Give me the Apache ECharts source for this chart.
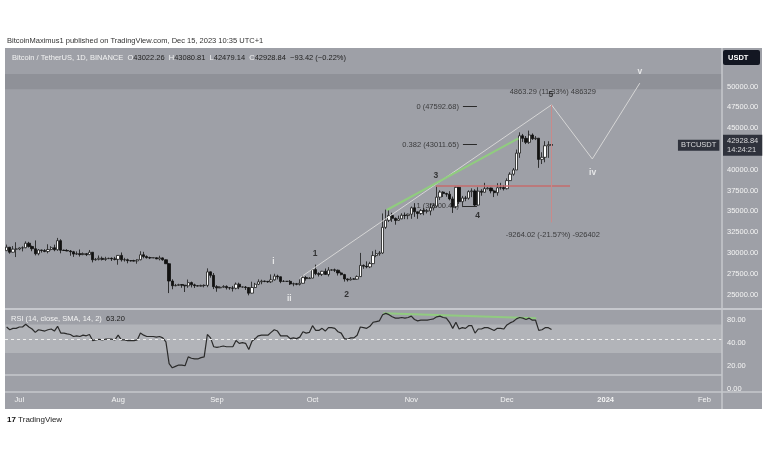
<!DOCTYPE html>
<html><head><meta charset="utf-8">
<script src="https://cdn.jsdelivr.net/npm/echarts@6/dist/echarts.min.js"></script>
<style>html,body{margin:0;padding:0;background:#fff}#c{width:768px;height:463px}</style>
</head><body><div id="c"></div><script>
// ---------- DATA ----------
const startDate = [2023, 5, 27];   // Jun 27 2023 (first daily bar)
const dayCount = 225;              // through Feb 6 2024 (axis extent)
// daily candles: [open, close, low, high]
const candles = [
[30270,30690,30220,31000],[30690,30080,29900,30700],[30080,30450,30040,30820],[30450,30470,29500,31280],
[30470,30590,30330,30660],[30590,30620,30180,30790],[30620,31160,30560,31390],[31160,30770,30640,31330],
[30770,30500,30200,30880],[30500,29900,29700,31500],[29900,30350,29710,30450],[30350,30290,30040,30390],
[30290,30170,30080,30450],[30170,30410,29950,31040],[30410,30620,30300,30800],[30620,30380,30200,30990],
[30380,31470,30250,31800],[31470,30320,29950,31640],[30320,30290,30250,30400],[30290,30230,30200,30450],
[30230,30140,29660,30340],[30140,29860,29520,30240],[29860,29910,29760,30180],[29910,29800,29560,30410],
[29800,29910,29720,30050],[29910,29790,29620,29990],[29790,30080,29740,30350],[30080,29170,28860,30100],
[29170,29230,29060,29390],[29230,29350,29100,29690],[29350,29210,29090,29560],[29210,29310,29040,29530],
[29310,29350,29260,29420],[29350,29280,29030,29450],[29280,29230,29100,29530],[29230,29700,28580,29740],
[29700,29170,28960,30050],[29170,29180,28960,29410],[29180,29070,28750,29310],[29070,29050,28960,29120],
[29050,29040,28960,29170],[29040,29180,28700,29250],[29180,29770,29110,30200],[29770,29560,29350,30130],
[29560,29430,29320,29700],[29430,29400,29260,29540],[29400,29420,29370,29470],[29420,29280,29250,29460],
[29280,29400,29100,29660],[29400,29170,29060,29460],[29170,28700,28690,29220],[28700,26620,25170,28780],
[26620,26050,25630,26830],[26050,26100,25990,26270],[26100,26190,26030,26290],[26190,26120,25810,26260],
[26120,26040,25300,26130],[26040,26430,25800,26800],[26430,26160,25850,26550],[26160,26060,25780,26300],
[26060,26010,25970,26120],[26010,26090,25960,26180],[26090,26100,25860,26220],[26100,27720,25880,28140],
[27720,27300,27020,27760],[27300,25940,25650,27580],[25940,25800,25330,26120],[25800,25870,25760,25980],
[25870,25970,25800,26120],[25970,25820,25600,26100],[25820,25790,25570,25870],[25790,25750,25360,26030],
[25750,26240,25620,26440],[26240,25900,25640,26420],[25900,25900,25840,25950],[25900,25840,25550,26020],
[25840,25160,24900,25880],[25160,25840,25130,26540],[25840,26230,25770,26400],[26230,26530,26130,26820],
[26530,26610,26230,26780],[26610,26570,26480,26670],[26570,26530,26410,26630],[26530,26760,26380,27410],
[26760,27210,26670,27490],[27210,27130,26810,27380],[27130,26570,26360,27160],[26570,26580,26500,26740],
[26580,26580,26530,26620],[26580,26260,26140,26740],[26260,26300,25990,26430],[26300,26220,26110,26390],
[26220,26350,26080,26820],[26350,27030,26320,27310],[27030,26910,26660,27230],[26910,26970,26890,27090],
[26970,27990,26950,28060],[27990,27500,27320,28590],[27500,27430,27160,27670],[27430,27790,27220,27840],
[27790,27410,27370,28120],[27410,27930,27170,28290],[27930,27960,27860,28040],[27960,27920,27700,28110],
[27920,27590,27280,27990],[27590,27390,27310,27740],[27390,26870,26550,27480],[26870,26760,26560,26940],
[26760,26860,26680,27100],[26860,26850,26810,26980],[26850,27150,26800,27290],[27150,28500,27110,30000],
[28500,28400,28090,28610],[28400,28320,28150,28980],[28320,28710,28170,28930],[28710,29680,28650,30200],
[29680,29910,29480,30370],[29910,29990,29660,30220],[29990,33070,29880,34740],[33070,33920,32880,35200],
[33920,34500,33710,35130],[34500,34150,33730,34830],[34150,33900,33390,34250],[33900,34090,33860,34480],
[34090,34530,34050,34760],[34530,34490,34060,34850],[34490,34650,34050,34720],[34650,35420,34100,35570],
[35420,34940,34330,35980],[34940,34730,34100,34950],[34730,35080,34580,35270],[35080,35020,34530,35380],
[35020,35040,34750,35280],[35040,35420,34520,35900],[35420,35630,35110,35980],[35630,36700,35540,37970],
[36700,37310,36350,37530],[37310,37130,36720,37410],[37130,37060,36750,37230],[37060,36490,36320,37420],
[36490,35550,34800,36770],[35550,37880,35360,37980],[37880,36160,35880,37930],[36160,36600,35510,36850],
[36600,36570,36210,36850],[36570,37360,36400,37520],[37360,37450,36700,37760],[37450,35750,35630,37650],
[35750,37420,35670,37890],[37420,37290,36870,37660],[37290,37720,37250,38420],[37720,37800,37620,37890],
[37800,37450,37160,37840],[37450,37240,36710,37590],[37240,37830,36880,38380],[37830,37850,37600,38420],
[37850,37720,37500,38150],[37720,38690,37620,38960],[38690,39460,38650,39690],[39460,39970,39280,40200],
[39970,41990,39970,42420],[41990,44080,41420,44490],[44080,43770,43340,44300],[43770,43290,43080,44050],
[43290,44170,43100,44700],[44170,43720,43580,44360],[43720,43790,43560,44040],[43790,41240,40220,43800],
[41240,41490,40680,42100],[41490,42880,40890,43430],[42880,43020,41420,43420],[43022.26,42928.84,42479.14,43080.81]
];
const rsi = [
66.6,62.8,64.7,64.7,66.6,66.6,70.5,66.6,63.8,59.0,62.8,61.8,60.9,62.8,63.8,60.9,67.6,58.0,58.0,57.0,
56.1,53.2,54.2,53.2,55.1,54.2,56.1,47.5,48.4,49.4,48.4,49.4,49.4,49.4,48.4,55.1,48.4,48.4,47.5,47.5,
47.5,48.4,58.0,55.1,53.2,53.2,53.2,52.3,53.2,51.3,45.6,14.9,9.1,11.1,13.0,13.0,12.0,24.5,22.6,21.6,
21.6,23.5,24.5,56.1,51.3,38.8,37.9,38.8,39.8,38.8,38.8,38.8,47.5,43.6,44.6,43.6,35.0,46.5,50.3,54.2,
55.1,55.1,55.1,59.0,62.8,60.9,54.2,54.2,54.2,50.3,51.3,50.3,52.3,59.9,58.0,59.0,68.5,61.8,61.8,64.7,
60.9,65.7,65.7,64.7,59.9,58.0,50.3,49.4,51.3,51.3,55.1,66.6,65.7,64.7,67.6,73.3,74.3,75.3,83.9,85.8,
84.0,81.0,79.1,79.1,80.0,79.1,80.0,82.0,77.2,75.3,76.2,76.2,76.2,77.2,78.1,81.0,82.0,80.0,79.1,73.3,
64.7,73.3,63.8,65.7,64.7,68.5,68.5,58.0,63.8,63.8,65.7,65.7,63.8,61.8,64.7,64.7,63.8,69.5,72.4,74.3,
78.1,80.0,79.1,77.2,79.1,76.2,76.2,61.8,62.8,65.7,65.7,63.2
];
const shownPriceTicks = [25000,27500,30000,32500,35000,37500,40000,45000,47500,50000];
const rsiTickLabels = ['0.00','20.00','40.00','80.00'];
const monthNames = ['Jan','Feb','Mar','Apr','May','Jun','Jul','Aug','Sep','Oct','Nov','Dec'];
const lastPrice = 42928.84;
const resistanceZone = [49663, 51500];
// drawings: [dayIndex, price]
const projectionPath = [[92,27000],[171,47792],[183.8,41290],[198.7,50400]];
const greenTrend = [[119.3,35156],[160.6,43774]];
const redLevel = [[134.7,38041],[176.8,38041]];
const measureLine = [[171,47792.13],[171,33664.82]];
const fibLevels = [[47592.68,'0 (47592.68)'],[43011.65,'0.382 (43011.65)'],[35600.45,'1 (35600.45)']];
const fibSpan = [143.2,147.6];
const waveLabels = [
  ['i',83.7,28942,'w'],['ii',88.7,24459,'w'],['1',96.8,29868,'d'],['2',106.7,25024,'d'],
  ['3',134.7,39243,'d'],['4',147.8,34471,'d'],['5',170.8,48978,'d'],['iv',183.9,39663,'w'],['v',198.7,51779,'w']
];
const measureTexts = [['4863.29 (11.33%) 486329',171.4,49339],['-9264.02 (-21.57%) -926402',171.4,32212]];
const rsiTrend = [[118.2,86],[166.2,79]];

// ---------- BUILD ----------
const dates = [];
const d0 = Date.UTC(startDate[0], startDate[1], startDate[2]);
for (let i = 0; i < dayCount; i++) dates.push(new Date(d0 + i * 86400000).toISOString().slice(0, 10));

const FONT = 'Liberation Sans';
const BG = '#9ea0a7', SEP = '#c6c8cd', TXT = '#f4f4f4', DARK = '#1e1e1e';
const L = 5, R = 46;

const chart = echarts.init(document.getElementById('c'), null, {renderer: 'canvas'});
const xExt = {min: -0.5, max: dayCount - 0.5};

const option = {
  backgroundColor: '#ffffff',
  animation: false,
  textStyle: {fontFamily: FONT},
  grid: [
    {left: L, right: R, top: 48, height: 261},
    {left: L, right: R, top: 309, height: 83},
    {left: L, right: R, top: 320, height: 68.5}
  ],
  xAxis: [
    {type: 'category', gridIndex: 0, data: dates, boundaryGap: true, show: false},
    Object.assign({type: 'value', gridIndex: 0, position: 'top', show: false}, xExt),
    {type: 'category', gridIndex: 1, data: dates, boundaryGap: true,
      axisLine: {show: false}, axisTick: {show: false}, splitLine: {show: false},
      axisLabel: {
        margin: 4, color: TXT, fontSize: 7.5, fontFamily: FONT,
        interval: (i, v) => v.slice(8) === '01',
        formatter: v => { const m = +v.slice(5, 7); return m === 1 ? '{y|' + v.slice(0, 4) + '}' : monthNames[m - 1]; },
        rich: {y: {fontWeight: 'bold', color: TXT, fontSize: 7.5, fontFamily: FONT}}
      }},
    Object.assign({type: 'value', gridIndex: 1, position: 'top', show: false}, xExt),
    {type: 'value', gridIndex: 2, show: false, min: 0, max: 1}
  ],
  yAxis: [
    {type: 'value', gridIndex: 0, position: 'right', min: 23257, max: 54627,
      axisLine: {show: false}, axisTick: {show: false}, splitLine: {show: false},
      axisLabel: {customValues: shownPriceTicks, margin: 5, color: TXT, fontSize: 7.5, fontFamily: FONT,
        formatter: v => v.toFixed(2)}},
    {type: 'value', gridIndex: 1, position: 'right', min: -25, max: 92, show: false},
    {type: 'value', gridIndex: 2, position: 'right', min: 0, max: 3, interval: 1,
      axisLine: {show: false}, axisTick: {show: false}, splitLine: {show: false},
      axisLabel: {margin: 5, color: TXT, fontSize: 7.5, fontFamily: FONT, showMinLabel: true, showMaxLabel: true,
        formatter: v => rsiTickLabels[Math.round(v)]}}
  ],
  series: [
    {type: 'candlestick', xAxisIndex: 0, yAxisIndex: 0, data: candles, barWidth: 2.8,
      itemStyle: {color: '#ffffff', color0: '#111111', borderColor: '#1a1a1a', borderColor0: '#111111', borderWidth: 0.8},
      markArea: {silent: true, itemStyle: {color: '#8f9198'},
        data: [[{yAxis: resistanceZone[0]}, {yAxis: resistanceZone[1]}]]}
    },
    {type: 'lines', coordinateSystem: 'cartesian2d', xAxisIndex: 1, yAxisIndex: 0, polyline: true, silent: true,
      lineStyle: {color: '#d6d6d6', width: 1, opacity: 1}, data: [{coords: projectionPath}], z: 3},
    {type: 'lines', coordinateSystem: 'cartesian2d', xAxisIndex: 1, yAxisIndex: 0, silent: true,
      lineStyle: {color: '#8fcf7c', width: 2, opacity: 0.95}, data: [{coords: greenTrend}], z: 4},
    {type: 'lines', coordinateSystem: 'cartesian2d', xAxisIndex: 1, yAxisIndex: 0, silent: true,
      lineStyle: {color: '#c46c6c', width: 1.5, opacity: 1}, data: [{coords: redLevel}], z: 4},
    {type: 'lines', coordinateSystem: 'cartesian2d', xAxisIndex: 1, yAxisIndex: 0, silent: true,
      lineStyle: {color: '#c98a8a', width: 1, opacity: 1}, data: [{coords: measureLine}], z: 4},
    {type: 'lines', coordinateSystem: 'cartesian2d', xAxisIndex: 1, yAxisIndex: 0, silent: true,
      lineStyle: {color: '#2a2a2a', width: 1, opacity: 1},
      data: fibLevels.map(f => ({coords: [[fibSpan[0], f[0]], [fibSpan[1], f[0]]]})), z: 4},
    {type: 'scatter', xAxisIndex: 1, yAxisIndex: 0, symbolSize: 0, silent: true, z: 1,
      data: fibLevels.map(f => ({value: [fibSpan[0], f[0]], name: f[1]})),
      label: {show: true, position: 'left', distance: 4, formatter: p => p.name, color: DARK, fontSize: 7.5, fontFamily: FONT}},
    {type: 'scatter', xAxisIndex: 1, yAxisIndex: 0, symbolSize: 0, silent: true, z: 6,
      data: waveLabels.map(w => ({value: [w[1], w[2]], name: w[0],
        label: {color: w[3] === 'w' ? '#f7f7f7' : '#151515'}})),
      label: {show: true, position: 'inside', formatter: p => p.name, fontSize: 8.5, fontWeight: 'bold', fontFamily: FONT}},
    {type: 'scatter', xAxisIndex: 1, yAxisIndex: 0, symbolSize: 0, silent: true, z: 5,
      data: measureTexts.map(m => ({value: [m[1], m[2]], name: m[0]})),
      label: {show: true, position: 'inside', formatter: p => p.name, color: DARK, fontSize: 7.5, fontFamily: FONT}},
    {type: 'scatter', xAxisIndex: 1, yAxisIndex: 0, symbolSize: 0, silent: true, z: 7, clip: false,
      data: [{value: [dayCount - 0.7, lastPrice], name: 'BTCUSDT'}],
      label: {show: true, position: 'left', distance: 2, formatter: p => p.name, color: '#fff',
        backgroundColor: '#131722', padding: [2, 3, 1, 3], fontSize: 7.5, fontFamily: FONT}},
    {type: 'scatter', xAxisIndex: 1, yAxisIndex: 0, symbolSize: 0, silent: true, z: 7, clip: false,
      data: [{value: [dayCount - 0.5, lastPrice], name: lastPrice.toFixed(2) + '\n14:24:21'}],
      label: {show: true, position: 'right', distance: 1, formatter: p => p.name, color: '#fff',
        backgroundColor: '#131722', padding: [2, 4, 1, 4], lineHeight: 9, fontSize: 7.5, fontFamily: FONT}},
    {type: 'line', xAxisIndex: 2, yAxisIndex: 1, data: rsi, symbol: 'none', silent: true,
      lineStyle: {color: '#2b2b2b', width: 1.2}, z: 4,
      markArea: {silent: true, itemStyle: {color: '#b2b4b9'}, data: [[{yAxis: 30}, {yAxis: 70}]]},
      markLine: {silent: true, symbol: 'none', label: {show: false},
        data: [
          {yAxis: 50, lineStyle: {color: '#eeeeee', type: [3, 3], width: 1}},
          {yAxis: 0, lineStyle: {color: SEP, type: 'solid', width: 1.5}}
        ]}},
    {type: 'lines', coordinateSystem: 'cartesian2d', xAxisIndex: 3, yAxisIndex: 1, silent: true,
      lineStyle: {color: '#8fcf7c', width: 2, opacity: 0.9}, data: [{coords: rsiTrend}], z: 3}
  ],
  graphic: [
    {type: 'rect', z: -10, silent: true, shape: {x: 5, y: 48, width: 757, height: 361}, style: {fill: BG}},
    {type: 'line', z: 50, silent: true, shape: {x1: 5, y1: 309, x2: 762, y2: 309}, style: {stroke: SEP, lineWidth: 2}},
    {type: 'line', z: 50, silent: true, shape: {x1: 5, y1: 392, x2: 762, y2: 392}, style: {stroke: SEP, lineWidth: 1.5}},
    {type: 'line', z: 50, silent: true, shape: {x1: 722, y1: 48, x2: 722, y2: 409}, style: {stroke: SEP, lineWidth: 1.5}},
    {type: 'rect', z: 50, silent: true, shape: {x: 723, y: 50, width: 37, height: 15, r: 2}, style: {fill: '#131722'}},
    {type: 'text', z: 51, silent: true, x: 728, y: 57.5, style: {text: 'USDT', fill: '#fff', font: 'bold 7.5px ' + FONT, textVerticalAlign: 'middle'}},
    {type: 'text', z: 51, silent: true, x: 7, y: 41, style: {text: 'BitcoinMaximus1 published on TradingView.com, Dec 15, 2023 10:35 UTC+1',
      fill: '#333', font: '7.5px ' + FONT, textVerticalAlign: 'middle'}},
    {type: 'text', z: 51, silent: true, x: 12, y: 57.5, style: {
      text: '{w|Bitcoin / TetherUS, 1D, BINANCE}  {w|O}{d|43022.26}  {w|H}{d|43080.81}  {w|L}{d|42479.14}  {w|C}{d|42928.84}  {d|−93.42 (−0.22%)}',
      font: '7.5px ' + FONT, textVerticalAlign: 'middle',
      rich: {w: {fill: '#f2f2f2', font: '7.5px ' + FONT}, d: {fill: '#222', font: '7.5px ' + FONT}}}},
    {type: 'text', z: 51, silent: true, x: 11, y: 319, style: {
      text: '{w|RSI (14, close, SMA, 14, 2)}  {d|63.20}', font: '7.5px ' + FONT, textVerticalAlign: 'middle',
      rich: {w: {fill: '#f2f2f2', font: '7.5px ' + FONT}, d: {fill: '#222', font: '7.5px ' + FONT}}}},
    {type: 'text', z: 51, silent: true, x: 7, y: 420, style: {text: '{b|17} TradingView', fill: '#222', font: '8px ' + FONT,
      textVerticalAlign: 'middle', rich: {b: {fill: '#111', font: 'bold 8px ' + FONT}}}}
  ]
};
chart.setOption(option);
</script></body></html>
